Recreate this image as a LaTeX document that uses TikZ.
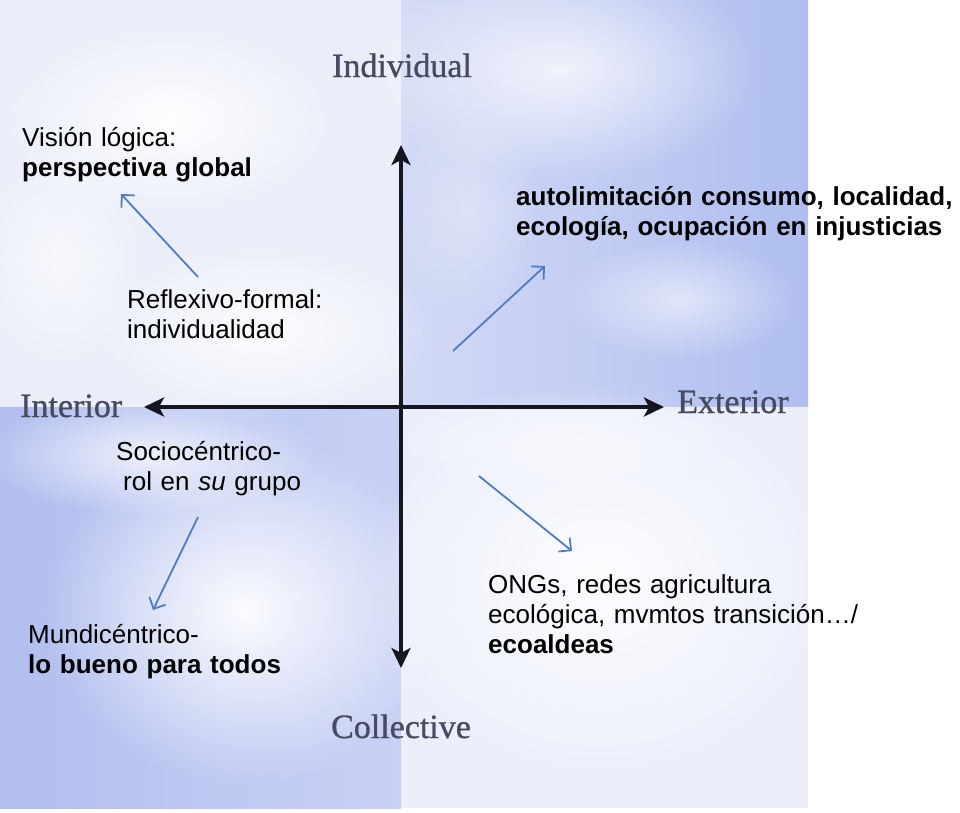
\documentclass[tikz,border=0pt]{standalone}
\usepackage{fontspec}
\setmainfont{Liberation Sans}
\newfontfamily\axisfont[FakeBold=0.9]{Liberation Serif}
\usetikzlibrary{arrows.meta,fadings}
\definecolor{tlbase}{HTML}{EBEEF9}
\definecolor{trleft}{HTML}{D3DAF5}
\definecolor{trright}{HTML}{AFBEEF}
\definecolor{blleft}{HTML}{B1BFEF}
\definecolor{blright}{HTML}{C8D1F4}
\definecolor{brbase}{HTML}{ECEFFB}
\definecolor{axiscol}{HTML}{15161F}
\definecolor{labcol}{HTML}{454B60}
\definecolor{arrblue}{HTML}{4D7DC4}
\tikzfading[name=softblob, inner color=transparent!0, outer color=transparent!100]
\begin{document}
\begin{tikzpicture}[x=1pt,y=-1pt,
  axisline/.style={draw=axiscol, line width=3.6pt,
     {Stealth[length=20pt,width=19pt,inset=5pt]}-{Stealth[length=20pt,width=19pt,inset=5pt]}},
  bluearrow/.style={draw=arrblue, line width=1.8pt, -{Straight Barb[length=9pt,width=18pt,line width=1.8pt]}},
  axislabel/.style={font=\axisfont\fontsize{34}{36}\selectfont, text=labcol, inner sep=0pt},
  note/.style={font=\fontsize{26}{30}\selectfont, text=black, inner sep=0pt, anchor=base west,
     text width=460pt, align=left},
  blob/.style={path fading=softblob}
]
\useasboundingbox (0,0) rectangle (960,812);
\fill[white] (0,0) rectangle (960,812);
\begin{scope}
\clip (0,0) rectangle (808,808);
% quadrants
\fill[tlbase] (0,0) rectangle (401,407);
\shade[left color=trleft, right color=trright] (401,0) rectangle (808,407);
\shade[left color=blleft, right color=blright] (0,407) rectangle (401,808);
\fill[brbase] (401,407) rectangle (808,808);
% clouds
\fill[white, blob, opacity=0.95] (170,120) ellipse (170 and 100);
\fill[white, blob, opacity=0.85] (260,330) ellipse (170 and 90);
\fill[white, blob, opacity=0.6] (60,260) ellipse (90 and 120);
\fill[white, blob, opacity=0.75] (560,70) ellipse (200 and 110);
\fill[white, blob, opacity=0.55] (680,300) ellipse (120 and 60);
\fill[white, blob, opacity=0.3] (470,210) ellipse (70 and 110);
\fill[white, blob, opacity=0.95] (245,610) ellipse (200 and 175);
\fill[white, blob, opacity=0.75] (150,455) ellipse (170 and 60);
\fill[white, blob, opacity=0.9] (600,580) ellipse (230 and 200);
\fill[white, blob, opacity=0.5] (560,440) ellipse (170 and 50);
\end{scope}
% axes
\coordinate (ytop) at (401,145);
\coordinate (ybot) at (401,668);
\coordinate (xl) at (144,407);
\coordinate (xr) at (664,407);
\draw[axisline] (xl) -- (xr);
\draw[axisline] (ybot) -- (ytop);
% axis labels
\node[axislabel, anchor=base] (indiv) at (402,77) {Individual};
\node[axislabel, anchor=base west] (inter) at (20,417) {Interior};
\node[axislabel, anchor=base west] (exter) at (677,413) {Exterior};
\node[axislabel, anchor=base] (coll) at (401,738) {Collective};
% notes
\node[note] (vision) at (22,146) {Visión lógica:\\\textbf{perspectiva global}};
\node[note] (reflex) at (127,308) {Reflexivo-formal:\\individualidad};
\node[note] (auto) at (516,205) {\textbf{autolimitación consumo, localidad,}\\\textbf{ecología, ocupación en injusticias}};
\node[note] (socio) at (116,460) {Sociocéntrico-\\\hspace*{7pt}rol en \textit{su} grupo};
\node[note] (mundi) at (28,643) {Mundicéntrico-\\\textbf{lo bueno para todos}};
\node[note] (ongs) at (488,593) {ONGs, redes agricultura\\ecológica, mvmtos transición…/\\\textbf{ecoaldeas}};
% blue arrows
\coordinate (a1s) at (198,277);
\coordinate (a1e) at (121,194);
\coordinate (a2s) at (453,351);
\coordinate (a2e) at (545,266);
\coordinate (a3s) at (198,517);
\coordinate (a3e) at (153,610);
\coordinate (a4s) at (479,476);
\coordinate (a4e) at (572,551);
\draw[bluearrow] (a1s) -- (a1e);
\draw[bluearrow] (a2s) -- (a2e);
\draw[bluearrow] (a3s) -- (a3e);
\draw[bluearrow] (a4s) -- (a4e);
\end{tikzpicture}
\end{document}
